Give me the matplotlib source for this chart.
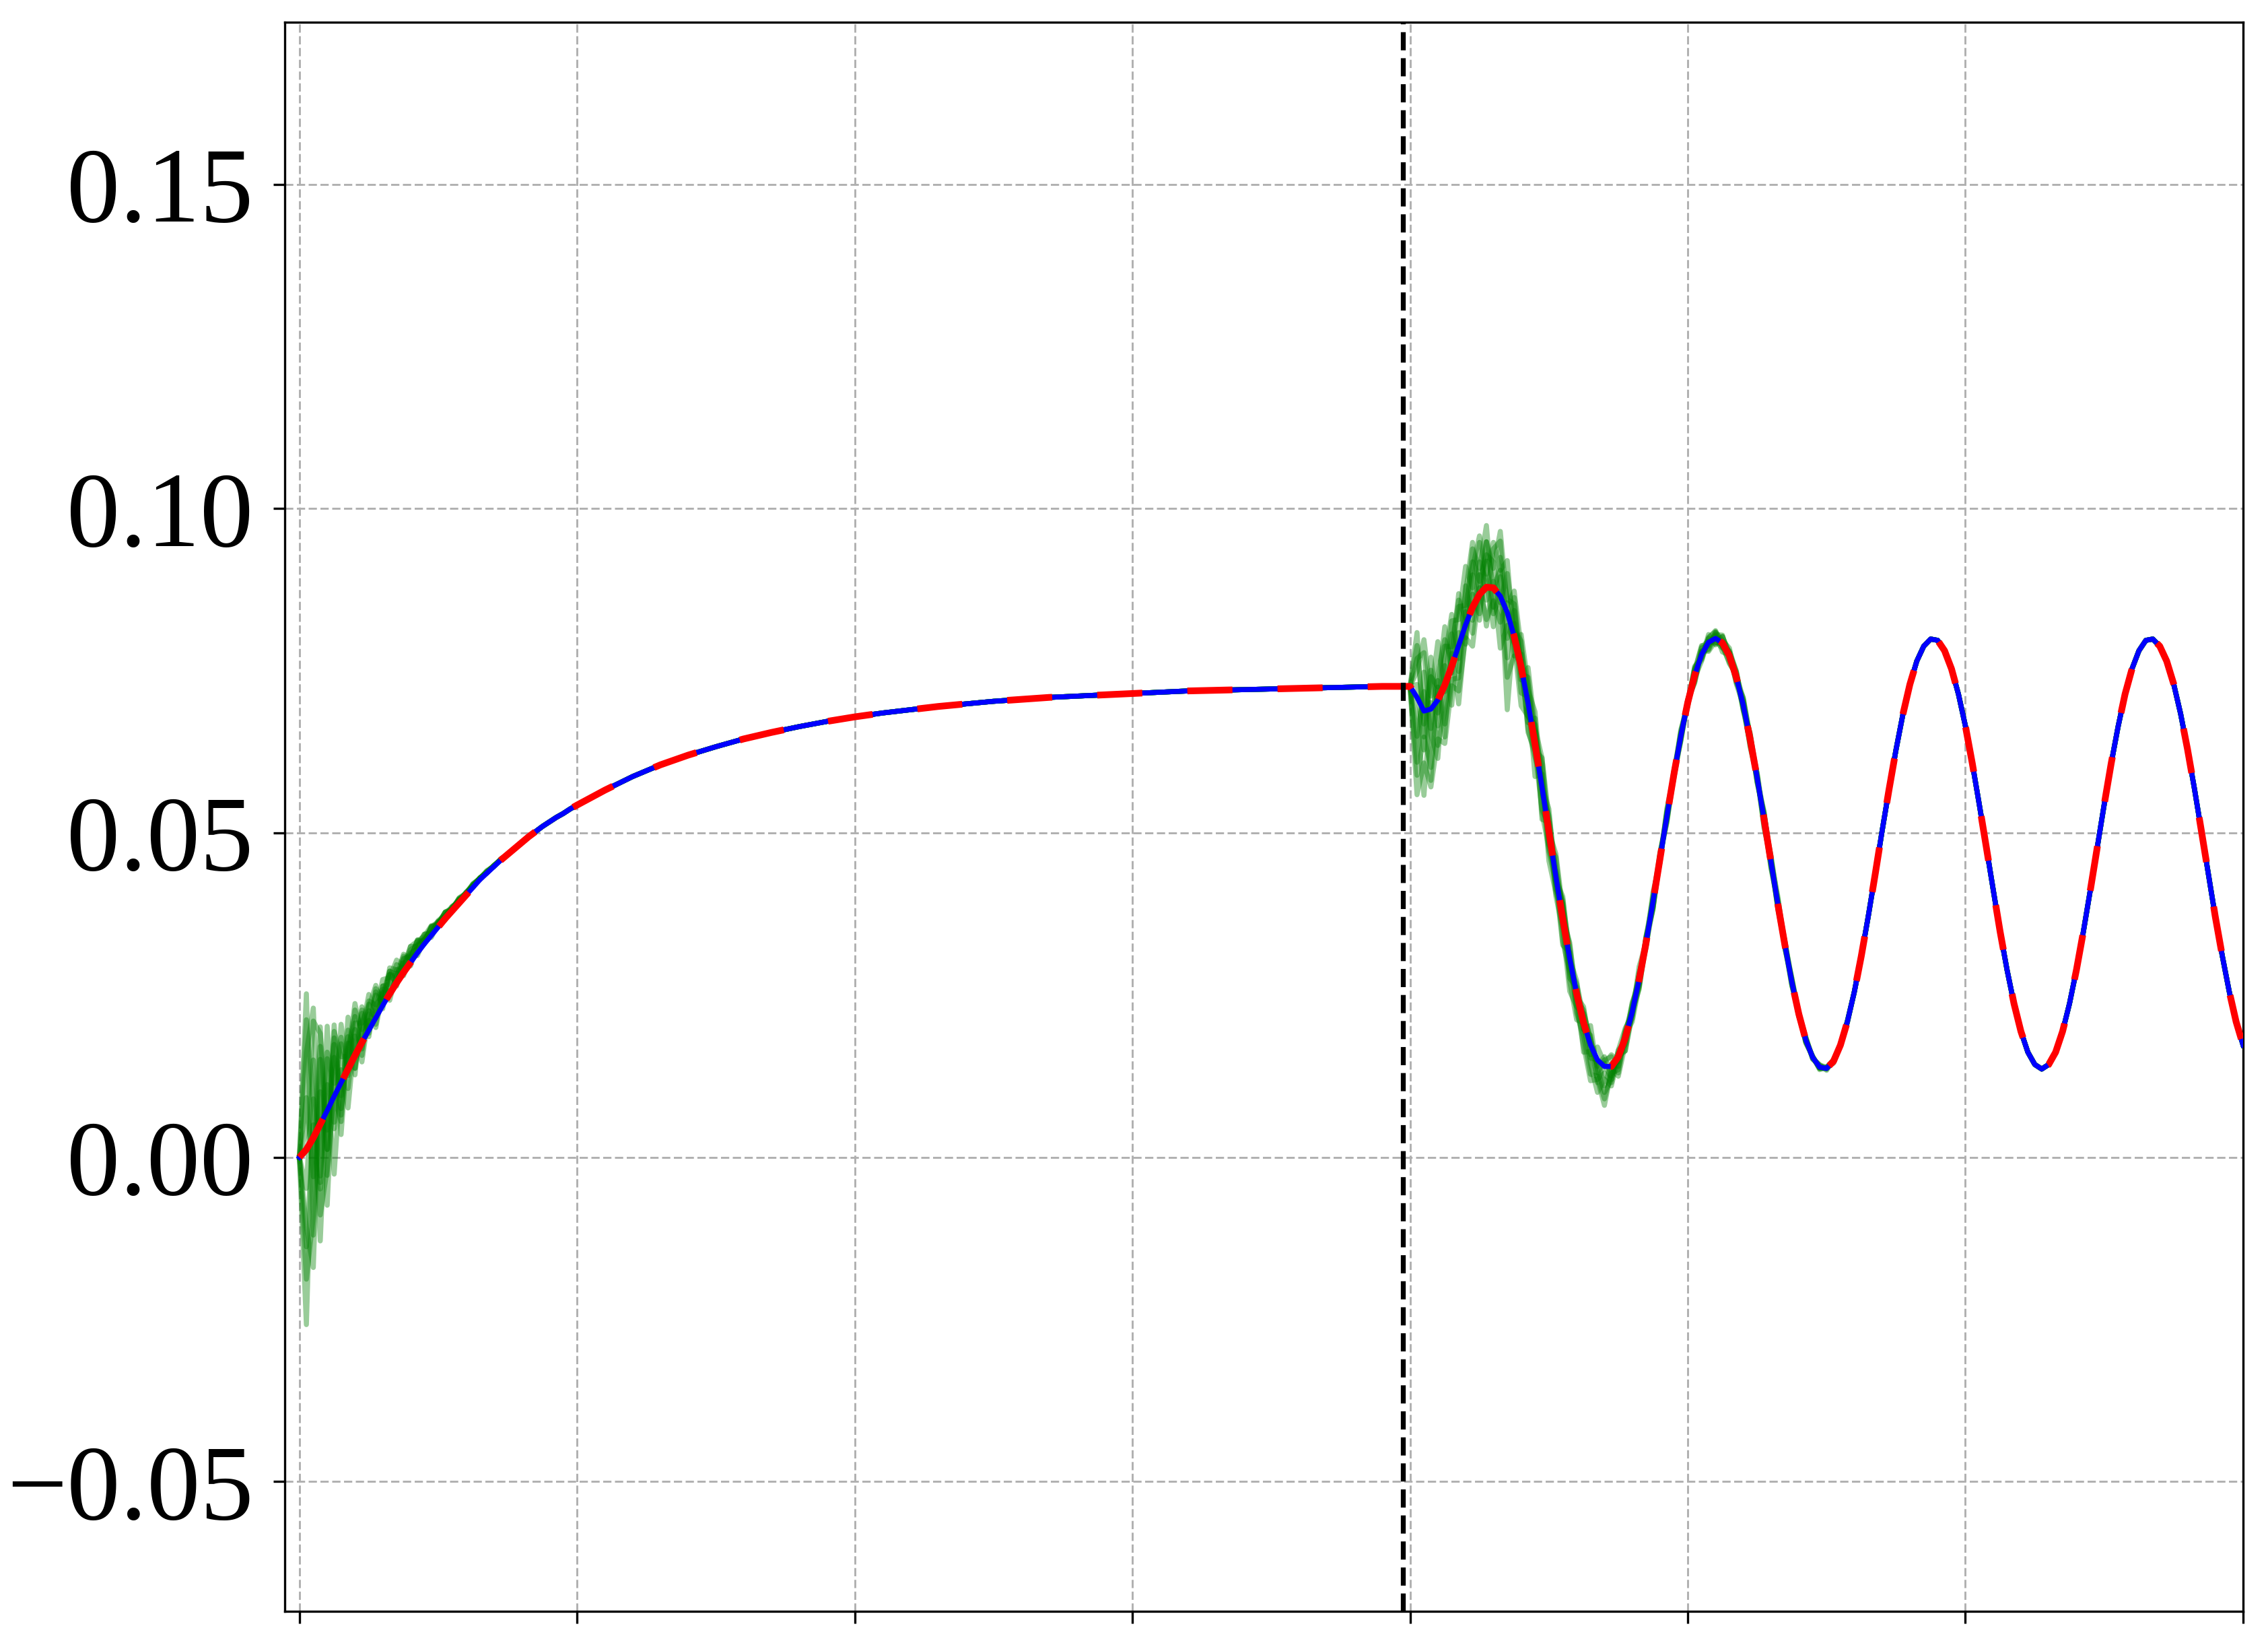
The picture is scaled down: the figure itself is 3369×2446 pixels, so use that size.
import numpy as np
import matplotlib
matplotlib.use("Agg")
import matplotlib.pyplot as plt

plt.rcParams['font.family'] = ['Liberation Serif', 'DejaVu Serif']

# mean response
# rise: t = 0..1 step 0.025, then 1.1..4.0 step 0.1
y_rise = [0.0000, 0.0012, 0.0030, 0.0051, 0.0072, 0.0094, 0.0115, 0.0136, 0.0157, 0.0177,
          0.0196, 0.0215, 0.0234, 0.0252, 0.0269, 0.0285, 0.0300, 0.0315, 0.0329, 0.0342,
          0.0355, 0.0368, 0.0380, 0.0392, 0.0404, 0.0416, 0.0428, 0.0438, 0.0448, 0.0458,
          0.0467, 0.0476, 0.0485, 0.0494, 0.0502, 0.0510, 0.0517, 0.0524, 0.0530, 0.0537,
          0.0543,
          0.0566, 0.0587, 0.0605, 0.0620, 0.0633, 0.0645, 0.0655, 0.0664, 0.0672, 0.0679,
          0.0685, 0.0690, 0.0695, 0.0699, 0.0703, 0.0706, 0.0709, 0.0711, 0.0713, 0.0715,
          0.0717, 0.0719, 0.0720, 0.0721, 0.0722, 0.0723, 0.0724, 0.0725, 0.0726, 0.0726]

# oscillating part: t = 4.025..7.0 step 0.025
y_osc = [0.0709, 0.0688, 0.0691, 0.0705, 0.0728, 0.0757, 0.0789, 0.0821, 0.0848, 0.0868,
         0.0879, 0.0878, 0.0865, 0.0840, 0.0803, 0.0756, 0.0700, 0.0637, 0.0571, 0.0502,
         0.0433, 0.0367, 0.0306, 0.0252, 0.0207, 0.0173, 0.0150, 0.0140, 0.0140, 0.0155,
         0.0184, 0.0224, 0.0274, 0.0331, 0.0394, 0.0460, 0.0526, 0.0590, 0.0649, 0.0701,
         0.0743, 0.0775, 0.0794, 0.0800, 0.0793, 0.0773, 0.0740, 0.0697, 0.0644, 0.0585,
         0.0521, 0.0455, 0.0389, 0.0327, 0.0270, 0.0221, 0.0181, 0.0154, 0.0139, 0.0137,
         0.0148, 0.0173, 0.0209, 0.0255, 0.0310, 0.0371, 0.0436, 0.0503, 0.0567, 0.0628,
         0.0683, 0.0729, 0.0765, 0.0788, 0.0799, 0.0797, 0.0781, 0.0753, 0.0714, 0.0665,
         0.0607, 0.0544, 0.0479, 0.0413, 0.0348, 0.0289, 0.0237, 0.0194, 0.0162, 0.0143,
         0.0136, 0.0143, 0.0162, 0.0194, 0.0237, 0.0289, 0.0348, 0.0412, 0.0478, 0.0544,
         0.0607, 0.0664, 0.0714, 0.0753, 0.0781, 0.0797, 0.0799, 0.0788, 0.0765, 0.0730,
         0.0684, 0.0629, 0.0568, 0.0503, 0.0437, 0.0371, 0.0311, 0.0256, 0.0209, 0.0173]

t_switch = 3.975

# noisy sample runs: deviation from the mean in 1e-4 units
# after t=0 (t = 0.025..0.75)
dev_rise = [
    [240, -150, 120, -60, 90, -20, 60, 10, 45, -5, 35, 5, 30, 0, 22, 8, 18, 4, 12, 6, 10, 2, 8, 3, 6, 2, 4, 1, 2, 0],
    [-270, 60, -180, 40, -120, 20, -60, 30, -30, 25, -15, 20, -10, 15, -5, 10, -4, 8, -3, 6, -2, 5, -1, 4, 0, 3, 0, 2, 0, 1],
    [150, 200, -80, 130, -40, 90, 0, 70, 20, 55, 10, 40, 25, 35, 10, 25, 18, 12, 15, 5, 10, 4, 7, 3, 5, 2, 3, 1, 1, 0],
    [-120, -200, 100, -146, 60, -80, 40, -30, 50, -10, 40, 0, 30, 10, 25, 5, 20, 0, 14, 2, 9, 0, 6, 1, 4, 0, 2, 0, 1, 0],
    [80, -60, 150, -100, 110, -50, 80, -20, 55, 0, 45, 10, 35, 12, 28, 6, 20, 5, 14, 3, 10, 2, 7, 1, 5, 1, 3, 0, 2, 0],
    [-60, 120, -90, 80, -50, 60, -30, 40, -10, 30, 0, 25, 5, 20, 8, 15, 6, 10, 5, 8, 3, 6, 2, 4, 2, 3, 1, 2, 1, 0],
    [200, 60, -100, 90, 20, 70, -10, 50, 30, 40, 0, 30, 15, 28, 5, 20, 12, 15, 4, 10, 6, 7, 2, 5, 3, 3, 1, 2, 1, 0],
    [-200, -120, 50, -60, 80, -40, 30, 60, -20, 45, 20, 15, 35, -5, 20, 12, 8, 15, 2, 8, 5, 3, 5, 1, 3, 1, 2, 0, 1, 0],
    [30, 180, 140, -30, 100, 40, 20, 80, 10, 35, 50, -5, 40, 20, 0, 25, 10, 5, 12, 9, 2, 6, 4, 2, 3, 2, 1, 1, 0, 0],
    [-150, 20, -140, -90, 0, -60, 50, -20, 20, 15, -10, 30, 0, 10, 15, -5, 12, 6, 0, 7, 4, 1, 4, 2, 1, 2, 0, 1, 0, 0],
]
# after the switch (t = 4.025..5.6)
dev_osc = [
    [100, -40, 80, -20, 60, 30, 70, 10, 90, 40, 95, -30, 60, 20, 50, -10,
     40, 10, 35, -20, 30, 0, 25, -10, 20, 5, -15, -40, -20, 10, 15, -5,
     20, 0, 15, -5, 12, 0, 10, -5, 14, -6, 12, -10, 10, 4, 8, -8,
     10, -4, 12, -6, 8, 2, 6, -4, 5, -2, 4, -3, 3, -1, 2, 0],
    [-150, -80, -120, -60, -90, -30, -70, -20, -60, 10, -50, -20, -40, 15, -30, 20,
     -45, -10, -35, 10, -30, -15, -50, -20, -35, -55, -30, -10, -25, 5, -20, 0,
     -15, 5, -12, 8, -10, 3, -8, 5, -12, 4, -10, 8, -14, 2, -8, 6,
     -12, 0, -10, 4, -8, -2, -6, 3, -5, 1, -4, 2, -3, 0, -2, 0],
    [40, 110, 20, 90, -10, 70, 40, 90, 30, 80, -20, 60, 85, -40, 40, -20,
     55, 25, 45, 0, 35, 15, 20, -5, 25, -15, 20, 5, 18, -8, 12, 2,
     10, -6, 8, 3, 6, -4, 5, 2, 8, 14, -6, 10, 4, 12, -4, 8,
     6, -8, 10, 3, 12, -5, 6, 2, 4, -3, 3, 2, 2, -1, 1, 0],
    [-60, 30, -110, 20, -80, 50, -40, 60, -20, 50, 10, -60, 30, -150, 20, -40,
     10, -50, 20, -30, -10, -40, 10, -30, -20, -45, -25, -50, -10, -20, 5, -15,
     -10, 10, -8, 6, -6, 4, -5, 3, -6, 5, -12, 4, -6, -10, 3, -8,
     -4, 6, -14, 4, -6, 3, -4, 2, -3, 2, -2, 1, -1, 0, -1, 0],
    [80, -20, 50, 20, 90, -10, 60, 30, 70, 20, 50, 40, -10, 60, 10, 40,
     -20, 30, -10, 25, 10, 20, -15, 15, 10, -20, 0, -30, 5, -15, 10, -10,
     8, -4, 6, -3, 5, -2, 4, -2, 10, -8, 6, 12, -4, 8, 10, -3,
     8, 4, -6, 10, 5, -4, 3, 1, 2, 0, 2, -1, 1, 0, 1, 0],
    [-100, 60, -40, -90, 30, -60, 20, -30, 50, -40, 70, 0, 40, -70, 60, 0,
     -30, 40, -50, 15, -20, 25, -30, 10, -10, 15, -35, 5, -20, 10, -5, 15,
     -5, 8, -4, 6, -3, 4, -2, 3, -8, 10, -4, 6, 12, -6, 4, 10,
     -6, 8, 2, -10, 4, 6, -3, 2, -2, 1, -1, 1, 0, 0, 0, 0],
    [60, 90, -30, 40, 70, 10, 80, -20, 60, 90, 20, 70, 40, 80, -10, 50,
     30, -10, 45, 20, -5, 35, 0, 20, -10, 30, -20, 10, 15, -25, 5, 12,
     -8, 10, 4, -6, 8, -3, 6, 2, 12, -4, 8, 10, -6, 6, 8, -5,
     6, -6, 8, 2, -5, 6, 3, -2, 3, -2, 2, 1, -1, 1, 0, 0],
    [-120, -40, -90, 30, -60, -20, -50, 20, -40, 30, -60, 10, -80, -20, -10, -60,
     -20, 20, -40, -25, 5, -35, -20, 0, -45, -10, -30, -60, -5, -30, -10, 5,
     -12, -3, -10, 2, -8, -4, -6, 1, -10, 6, -14, -4, -8, 5, -10, 0,
     -8, 2, -6, -3, -5, 2, -4, 0, -3, 1, -2, 0, -1, 0, 0, 0],
    [20, -60, 60, -40, 40, 80, -20, 50, 100, 0, 70, 30, 100, 10, 70, 30,
     20, 50, 0, 35, -10, 30, 5, -20, 15, 10, -10, 15, -15, 5, -10, 10,
     6, -8, 4, 10, -4, 6, 2, -6, 6, 12, 2, -8, 10, 4, -6, 12,
     4, -6, 6, 8, -4, 4, 2, -3, 2, 1, -2, 1, 1, 0, 0, 0],
    [-30, -130, 10, -70, -40, 20, -90, -10, 20, -30, 40, -40, 0, -100, -30, 10,
     -40, -20, 10, -45, -25, 10, -35, -40, 0, -30, -50, -20, -30, 0, -20, -5,
     -4, 6, -10, -2, 4, -6, -3, 4, -4, -10, 6, -6, -2, -12, 4, -4,
     -10, 2, -4, -8, 2, -5, 1, -3, -2, 0, -1, -1, 0, 0, 0, 0],
]

# time axis
t_rise = np.concatenate([0.025 * np.arange(41), 1.0 + 0.1 * np.arange(1, 31)])
t_osc = 4.0 + 0.025 * np.arange(1, len(y_osc) + 1)
t = np.concatenate([t_rise, t_osc])
y_mean = np.array(y_rise + y_osc)

fig = plt.figure(figsize=(3369 / 300, 2446 / 300), dpi=300)
ax = fig.add_axes([0.1256, 0.0217, 0.9890 - 0.1256, 0.9865 - 0.0217])

n1 = len(y_rise)
for d1, d2 in zip(dev_rise, dev_osc):
    dev = np.zeros(len(t))
    dev[1:1 + len(d1)] = np.array(d1) * 1e-4
    dev[n1:n1 + len(d2)] = np.array(d2) * 1e-4
    ax.plot(t, y_mean + dev, color='green', lw=1.8, alpha=0.4, zorder=2)

ax.plot(t, y_mean, color='blue', lw=1.8, zorder=3)
ax.plot(t, y_mean, color='red', lw=2.4, linestyle=(0, (6.7, 6.7)), zorder=4)
ax.axvline(t_switch, color='black', lw=1.75, linestyle='--', zorder=5)

ax.set_xlim(-0.0525, 7.0)
ax.set_ylim(-0.07, 0.175)
ax.set_xticks(np.arange(0, 8))
ax.set_xticklabels([])
ax.set_yticks([-0.05, 0.0, 0.05, 0.10, 0.15])
ax.set_yticklabels(['\u22120.05', '0.00', '0.05', '0.10', '0.15'])
ax.tick_params(axis='both', labelsize=38, length=4.2, width=0.8, pad=7)
ax.grid(True, color='#b0b0b0', lw=0.7, linestyle=(0, (4.2, 1.8)))
ax.set_axisbelow(True)

fig.savefig('out.png', dpi=300)
